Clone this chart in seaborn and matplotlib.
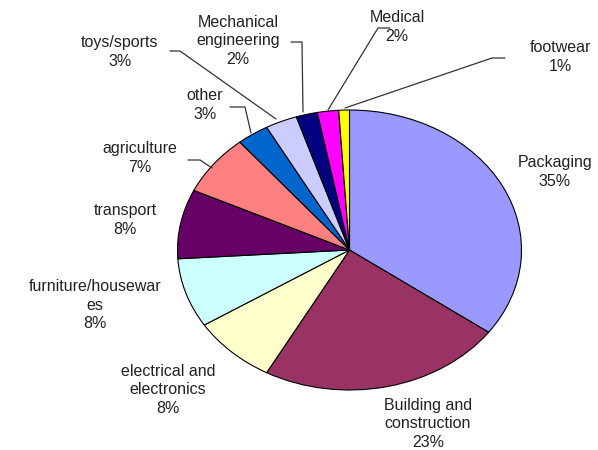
import matplotlib
matplotlib.use("Agg")
import matplotlib.pyplot as plt
import seaborn as sns

# ===================== Data =====================
sectors = ['Packaging', 'Building and\nconstruction', 'electrical and\nelectronics',
           'furniture/housewar\nes', 'transport', 'agriculture', 'other',
           'toys/sports', 'Mechanical\nengineering', 'Medical', 'footwear']
shares = [35, 23, 8, 8, 8, 7, 3, 3, 2, 2, 1]
colors = ['#9999FF', '#993366', '#FFFFCC', '#CCFFFF', '#660066', '#FF8080',
          '#0066CC', '#CCCCFF', '#000080', '#FF00FF', '#FFFF00']

# ===================== Layout (pixel space of the 598x450 image) =====================
W, H = 598, 450
CX, CY, RX, RY = 349.5, 250, 172, 140


def px(x, y):
    # pixel position -> data coords where the pie has radius 1
    return (x - CX) / RX, (CY - y) / RY


label_pos = [(555, 172), (428, 424), (168, 390), (95, 305), (125, 220),
             (140, 158), (205, 105), (120, 52), (238, 41), (397, 27), (560, 57)]
leaders = {
    5: [(188, 160), (200, 160), (212, 168)],
    6: [(230, 107), (245, 107), (251, 133)],
    7: [(170, 51), (180, 51), (276, 119)],
    8: [(291, 42), (302, 42), (303, 112)],
    9: [(390, 28), (378, 28), (328, 110)],
    10: [(505, 58), (492, 58), (345, 108)],
}

# ===================== Style =====================
sns.set_style("white")
plt.rcParams['font.family'] = ['Liberation Sans', 'DejaVu Sans']

fig = plt.figure(figsize=(W / 100, H / 100), dpi=100)
ax = fig.add_axes([0, 0, 1, 1])

ax.pie(shares, colors=colors, startangle=90, counterclock=False,
       radius=1, center=(0, 0),
       wedgeprops=dict(edgecolor='black', linewidth=0.8))
ax.set_aspect('auto')
x0, y0 = px(0, H)
x1, y1 = px(W, 0)
ax.set_xlim(x0, x1)
ax.set_ylim(y0, y1)
ax.axis('off')

for i, (name, val) in enumerate(zip(sectors, shares)):
    tx, ty = px(*label_pos[i])
    ax.text(tx, ty, f"{name}\n{val}%", ha='center', va='center',
            fontsize=11.5, color='#222222', linespacing=1.3)

for i, pts in leaders.items():
    xs, ys = zip(*[px(x, y) for x, y in pts])
    ax.plot(xs, ys, color='#333333', linewidth=0.9)

fig.savefig("out.png", dpi=100, facecolor='white')
